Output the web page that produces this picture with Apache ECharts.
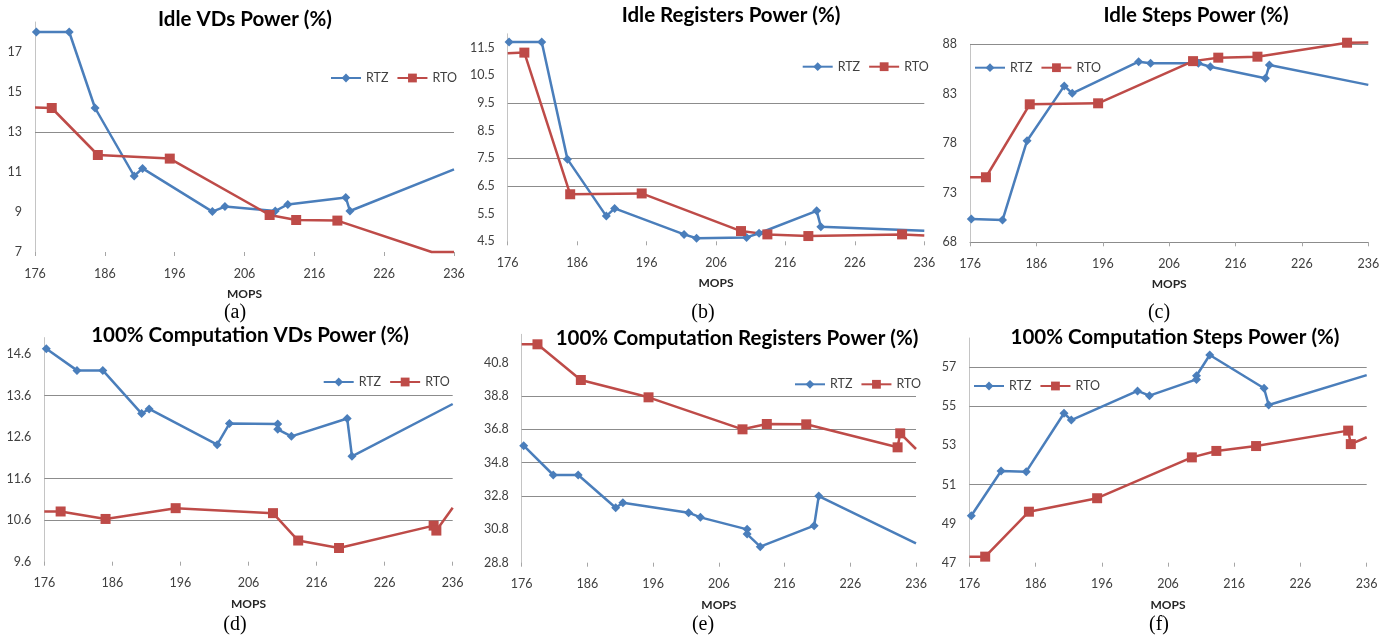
<!DOCTYPE html>
<html><head><meta charset="utf-8">
<script src="https://cdn.jsdelivr.net/npm/echarts@6/dist/echarts.min.js"></script>
<style>html,body{margin:0;padding:0;background:#fff;}#c{width:1396px;height:641px;}</style>
</head><body><div id="c"></div>
<script>
// ---- data (MOPS on x, power % on y) ----
const xTicks = [176, 186, 196, 206, 216, 226, 236];
const rtzMopsIdle = [176.2, 180.9, 184.6, 190.2, 191.4, 201.4, 203.2, 210.4, 212.2, 220.5, 221.1, 236];
const rtzMopsFull = [176.3, 180.8, 184.6, 190.3, 191.4, 201.4, 203.2, 210.3, 210.3, 212.3, 220.5, 221.2, 236];
const rtoMopsIdle = [176, 178.4, 185.0, 195.3, 209.6, 213.4, 219.3, 232.8, 236];
const rtoMopsFull = [176, 178.4, 185.0, 195.3, 209.6, 213.3, 219.3, 233.2, 233.6, 236];

const idleVdsRTZ = [18.0, 18.0, 14.2, 10.8, 11.18, 9.02, 9.27, 9.05, 9.38, 9.73, 9.05, 11.13];
const idleVdsRTO = [14.22, 14.2, 11.85, 11.67, 8.85, 8.6, 8.57, 7.0, 7.0];
const idleRegRTZ = [11.7, 11.7, 7.47, 5.41, 5.69, 4.75, 4.61, 4.64, 4.79, 5.6, 5.03, 4.88];
const idleRegRTO = [11.3, 11.32, 6.2, 6.23, 4.87, 4.75, 4.69, 4.75, 4.71];
const idleStepsRTZ = [70.35, 70.25, 78.26, 83.8, 83.05, 86.24, 86.08, 86.08, 85.74, 84.57, 85.9, 83.9];
const idleStepsRTO = [74.57, 74.57, 81.94, 82.04, 86.3, 86.65, 86.75, 88.16, 88.18];
const fullVdsRTZ = [14.73, 14.21, 14.21, 13.17, 13.28, 12.42, 12.93, 12.92, 12.79, 12.62, 13.05, 12.14, 13.4];
const fullVdsRTO = [10.81, 10.81, 10.63, 10.89, 10.77, 10.11, 9.93, 10.47, 10.35, 10.9];
const fullRegRTZ = [35.82, 34.06, 34.06, 32.1, 32.4, 31.8, 31.52, 30.8, 30.52, 29.76, 31.02, 32.8, 29.96];
const fullRegRTO = [41.9, 41.9, 39.76, 38.72, 36.8, 37.12, 37.1, 35.72, 36.56, 35.62];
const fullStepsRTZ = [49.4, 51.69, 51.66, 54.65, 54.3, 55.79, 55.55, 56.38, 56.57, 57.63, 55.93, 55.07, 56.6];
const fullStepsRTO = [47.31, 47.31, 49.61, 50.3, 52.39, 52.72, 52.97, 53.76, 53.07, 53.42];

// ---- layout ----
const X0 = xTicks[0], X1 = xTicks[xTicks.length - 1];
const BLUE = '#4A7EBB', RED = '#BE4B48';
const FONT = 'Lato';
const panels = [
  {title:'Idle VDs Power (%)', tx:245, ty:19, g:[35,22,419,230], ymin:7, ymax:18.5, step:2, dec:0, gl:[13],
   rx:rtzMopsIdle, ry:idleVdsRTZ, ox:rtoMopsIdle, oy:idleVdsRTO, lg:[330,77], xl:false, cap:'(a)', cx:235, cy:313},
  {title:'Idle Registers Power (%)', tx:731, ty:15, g:[507.7,33.8,416.6,207.5], ymin:4.5, ymax:12, step:1, dec:1, gl:[9.5,7.5,6.5],
   rx:rtzMopsIdle, ry:idleRegRTZ, ox:rtoMopsIdle, oy:idleRegRTO, lg:[801.7,65.7], xl:false, cap:'(b)', cx:703, cy:313},
  {title:'Idle Steps Power (%)', tx:1196, ty:15, g:[970,44.3,398.3,198], ymin:68, ymax:88, step:5, dec:0, gl:[88],
   rx:rtzMopsIdle, ry:idleStepsRTZ, ox:rtoMopsIdle, oy:idleStepsRTO, lg:[974,66.7], xl:true, cap:'(c)', cx:1159, cy:313},
  {title:'100% Computation VDs Power (%)', tx:250, ty:335, g:[44.3,337.6,408.4,224.1], ymin:9.6, ymax:15, step:1, dec:1, gl:[13.6,11.6,10.6],
   rx:rtzMopsFull, ry:fullVdsRTZ, ox:rtoMopsFull, oy:fullVdsRTO, lg:[322.7,381], xl:false, cap:'(d)', cx:235, cy:625},
  {title:'100% Computation Registers Power (%)', tx:737, ty:338, g:[521.7,334.3,394.3,228.4], ymin:28.8, ymax:42.5, step:2, dec:1, gl:[38.8,36.8,34.8,32.8],
   rx:rtzMopsFull, ry:fullRegRTZ, ox:rtoMopsFull, oy:fullRegRTO, lg:[794,383.3], xl:false, cap:'(e)', cx:703, cy:625},
  {title:'100% Computation Steps Power (%)', tx:1175, ty:337, g:[969.3,338,397.4,224.7], ymin:47, ymax:58.5, step:2, dec:0, gl:[57,55,51],
   rx:rtzMopsFull, ry:fullStepsRTZ, ox:rtoMopsFull, oy:fullStepsRTO, lg:[973,385], xl:false, cap:'(f)', cx:1159, cy:625}
];

function build(xs, ys, ymin) {
  return xs.map((x, i) => {
    const y = ys[i];
    const item = {value: [x - X0, y - ymin]};
    if (x <= X0 || x >= X1 || y <= ymin) item.symbol = 'none';
    return item;
  });
}

const option = {animation:false, backgroundColor:'#fff', grid:[], xAxis:[], yAxis:[], series:[], legend:[], graphic:[]};
panels.forEach((p, i) => {
  option.grid.push({left:p.g[0], top:p.g[1], width:p.g[2], height:p.g[3], containLabel:false});
  option.xAxis.push({
    type:'value', gridIndex:i, min:0, max:X1 - X0, interval:xTicks[1] - xTicks[0],
    axisLine:{show:p.xl, onZero:false, lineStyle:{color:'#8c8c8c', width:1}},
    axisTick:{show:true, length:4, lineStyle:{color:'#a6a6a6'}},
    splitLine:{show:false},
    axisLabel:{formatter:v => String(Math.round(v + X0)), margin:15, color:'#404040', fontFamily:FONT, fontSize:12.5},
    name:'MOPS', nameLocation:'middle', nameGap:36,
    nameTextStyle:{fontFamily:FONT, fontWeight:'bold', fontSize:12, color:'#262626'}
  });
  const span = p.ymax - p.ymin;
  const onTick = Math.abs(span / p.step - Math.round(span / p.step)) < 1e-6;
  option.yAxis.push({
    type:'value', gridIndex:i, min:0, max:span, interval:p.step,
    axisLine:{show:true, onZero:false, lineStyle:{color:'#c4c4c4', width:1}},
    axisTick:{show:false}, splitLine:{show:false},
    axisLabel:{formatter:v => (v + p.ymin).toFixed(p.dec), margin:13, showMaxLabel:onTick, color:'#404040', fontFamily:FONT, fontSize:12.5}
  });
  option.series.push({
    type:'line', name:'RTZ', xAxisIndex:i, yAxisIndex:i, data:build(p.rx, p.ry, p.ymin),
    symbol:'diamond', symbolSize:9, color:BLUE, lineStyle:{width:2.5, color:BLUE}, itemStyle:{color:BLUE},
    clip:false, z:3,
    markLine:{silent:true, symbol:'none', z:1, label:{show:false}, lineStyle:{color:'#8c8c8c', width:1, type:'solid'},
      data:p.gl.map(g => ({yAxis: g - p.ymin}))}
  });
  option.series.push({
    type:'line', name:'RTO', xAxisIndex:i, yAxisIndex:i, data:build(p.ox, p.oy, p.ymin),
    symbol:'rect', symbolSize:10, color:RED, lineStyle:{width:2.5, color:RED}, itemStyle:{color:RED},
    clip:false, z:3
  });
  option.legend.push({
    left:p.lg[0], top:p.lg[1] - 5.5, orient:'horizontal', padding:0, itemWidth:30, itemHeight:11, itemGap:8,
    selectedMode:false, data:['RTZ','RTO'], textStyle:{fontFamily:FONT, fontSize:12.5, color:'#404040'}
  });
  option.graphic.push({type:'text', x:p.tx, y:p.ty, silent:true,
    style:{text:p.title, fontFamily:FONT, fontWeight:'bold', fontSize:20.5, fill:'#000', align:'center', verticalAlign:'middle'}});
  option.graphic.push({type:'text', x:p.cx, y:p.cy, silent:true,
    style:{text:p.cap, fontFamily:'Liberation Serif', fontSize:20, fill:'#000', align:'center', verticalAlign:'middle'}});
});

const chart = echarts.init(document.getElementById('c'));
chart.setOption(option);
</script></body></html>
